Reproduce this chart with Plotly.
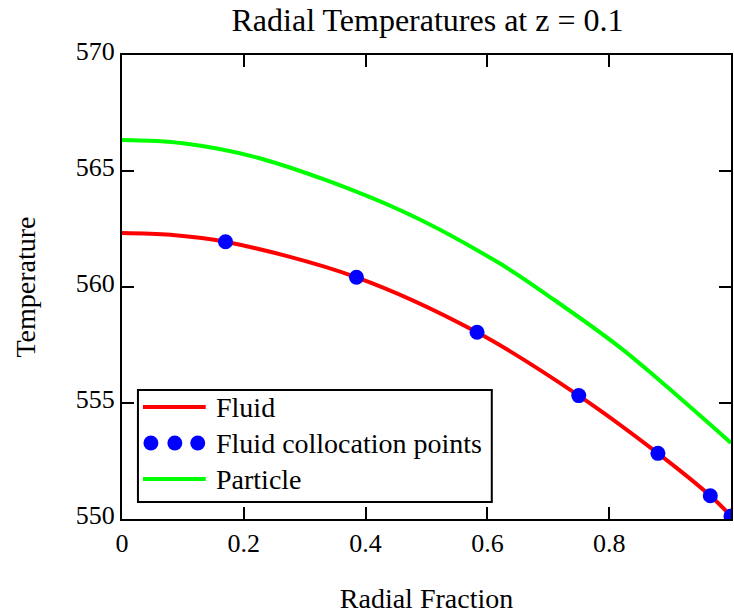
import plotly.graph_objects as go

# Data
fluid_x = [0.0, 0.08, 0.17, 0.385, 0.583, 0.75, 0.88, 0.966, 1.0]
fluid_y = [562.33, 562.25, 561.95, 560.42, 558.05, 555.32, 552.83, 551.0, 550.13]

colloc_x = [0.17, 0.385, 0.583, 0.75, 0.88, 0.966, 1.0]
colloc_y = [561.95, 560.42, 558.05, 555.32, 552.83, 551.0, 550.13]

particle_x = [0.0, 0.1, 0.226, 0.456, 0.62, 0.71, 0.816, 0.882, 1.0]
particle_y = [566.34, 566.2, 565.55, 563.32, 561.02, 559.44, 557.43, 555.99, 553.28]

x_ticks = [0, 0.2, 0.4, 0.6, 0.8]
x_tick_labels = ["0", "0.2", "0.4", "0.6", "0.8"]
y_ticks = [550, 555, 560, 565, 570]
y_tick_labels = ["550", "555", "560", "565", "570"]

legend_names = ["Fluid", "Fluid collocation points", "Particle"]

FONT = "Liberation Serif"
RED = "#ff0000"
BLUE = "#0000ff"
GREEN = "#00ff00"

fig = go.Figure()
fig.add_trace(go.Scatter(x=fluid_x, y=fluid_y, mode="lines", name=legend_names[0],
                         line=dict(color=RED, width=4, shape="spline"), showlegend=False))
fig.add_trace(go.Scatter(x=colloc_x, y=colloc_y, mode="markers", name=legend_names[1],
                         marker=dict(color=BLUE, size=15), showlegend=False))
fig.add_trace(go.Scatter(x=particle_x, y=particle_y, mode="lines", name=legend_names[2],
                         line=dict(color=GREEN, width=4, shape="spline"), showlegend=False))

# Plot-area geometry (pixels) used for the hand-built legend
L, R, T, B = 122, 733, 55, 519
W, H = R - L, B - T
def px(x): return (x - L) / W
def py(y): return (B - y) / H

shapes = []
shapes.append(dict(type="rect", xref="paper", yref="paper",
                   x0=px(138), x1=px(493), y0=py(502), y1=py(390),
                   line=dict(color="black", width=2), fillcolor="white", layer="above"))
rows = [407, 443, 479]
shapes.append(dict(type="line", xref="paper", yref="paper", x0=px(143), x1=px(206),
                   y0=py(rows[0]), y1=py(rows[0]), line=dict(color=RED, width=4)))
shapes.append(dict(type="line", xref="paper", yref="paper", x0=px(143), x1=px(206),
                   y0=py(rows[2]), y1=py(rows[2]), line=dict(color=GREEN, width=4)))
for cx in [151, 175, 198]:
    shapes.append(dict(type="circle", xref="paper", yref="paper",
                       x0=px(cx - 7.5), x1=px(cx + 7.5), y0=py(rows[1] + 7.5), y1=py(rows[1] - 7.5),
                       fillcolor=BLUE, line=dict(color=BLUE, width=0)))

annotations = []
for name, ry in zip(legend_names, rows):
    annotations.append(dict(text=name, xref="paper", yref="paper", x=px(214), y=py(ry),
                            xanchor="left", yanchor="middle", showarrow=False,
                            font=dict(family=FONT, size=28, color="black")))

axis_common = dict(showgrid=False, zeroline=False, showline=True, linecolor="black",
                   linewidth=2, mirror="ticks", ticks="inside", ticklen=12, tickwidth=2,
                   tickcolor="black", tickfont=dict(family=FONT, size=26, color="black"))

fig.update_layout(
    width=734, height=614,
    margin=dict(l=L, r=734 - R, t=T, b=614 - B),
    paper_bgcolor="white", plot_bgcolor="white",
    font=dict(family=FONT, color="black"),
    title=dict(text="Radial Temperatures at z = 0.1", x=(L + R) / 2 / 734, xanchor="center",
               y=1 - 20 / 614, yanchor="middle",
               font=dict(family=FONT, size=32, color="black")),
    xaxis=dict(range=[0, 1], tickvals=x_ticks, ticktext=x_tick_labels, ticklabelstandoff=0,
               title=dict(text="Radial Fraction", font=dict(family=FONT, size=28, color="black"),
                          standoff=34), **axis_common),
    yaxis=dict(range=[550, 570], tickvals=y_ticks, ticktext=y_tick_labels, ticklabelstandoff=0,
               ticklabelshift=-4,
               title=dict(text="Temperature", font=dict(family=FONT, size=28, color="black"),
                          standoff=32), **axis_common),
    shapes=shapes, annotations=annotations,
)

fig.write_html("out.html")
